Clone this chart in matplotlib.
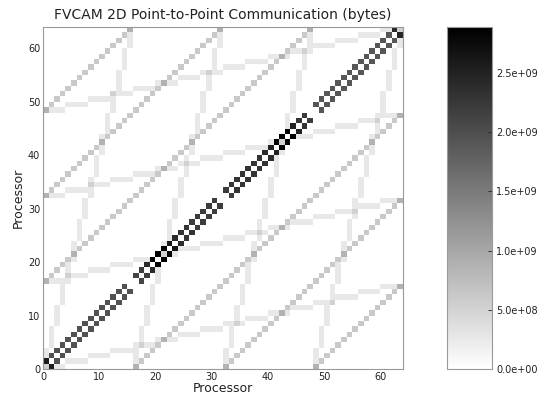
import numpy as np
import matplotlib
matplotlib.use('Agg')
import matplotlib.pyplot as plt
from matplotlib.ticker import FormatStrFormatter

# 64 processors, groups of 16 along the diagonal
n_proc = 64
group = 16

# neighbour (i, i+1) traffic inside each group of 16, in 1e9 bytes
diag_group0 = [2.3, 1.95, 1.95, 1.95, 1.95, 1.95, 1.95, 1.95, 1.95, 1.95, 1.95, 1.95, 1.95, 1.95, 1.95]
diag_group1 = [2.1, 2.2, 2.4, 2.7, 2.89, 2.8, 2.6, 2.4, 2.3, 2.3, 2.2, 2.2, 2.2, 2.2, 2.2]
diag_group2 = [2.2, 2.3, 2.3, 2.3, 2.3, 2.3, 2.3, 2.4, 2.5, 2.7, 2.89, 2.7, 2.5, 2.3, 2.2]
diag_group3 = [1.9, 1.9, 1.9, 1.9, 1.9, 1.9, 1.9, 1.9, 1.9, 1.9, 1.9, 1.9, 1.9, 1.9, 2.2]

# traffic between processors 16, 32, 48 apart
offset_lags = [16, 32, 48]
offset_value = 0.62

# transpose staircase: (16k + row//4, row) and its mirror
stair_starts = [0, 16, 32, 48]
stair_step = 4
stair_value = 0.26

color_max = 2.89e9

mat = np.zeros((n_proc, n_proc))
for g, vals in enumerate([diag_group0, diag_group1, diag_group2, diag_group3]):
    for k, v in enumerate(vals):
        i = g * group + k
        mat[i, i + 1] += v
        mat[i + 1, i] += v
for lag in offset_lags:
    for i in range(n_proc - lag):
        mat[i, i + lag] += offset_value
        mat[i + lag, i] += offset_value
for s in stair_starts:
    for r in range(n_proc):
        c = s + r // stair_step
        mat[r, c] += stair_value
        mat[c, r] += stair_value
mat = mat * 1e9

fig = plt.figure(figsize=(5.43, 3.97), dpi=100)
ax = fig.add_axes([43 / 543, 28 / 397, 360 / 543, 342 / 397])
im = ax.imshow(mat, cmap='gray_r', origin='lower', extent=[0, 64, 0, 64],
               aspect='auto', interpolation='nearest', vmin=0, vmax=color_max)
ax.set_xlim(0, 64)
ax.set_ylim(0, 64)
ax.set_xticks([0, 10, 20, 30, 40, 50, 60])
ax.set_yticks([0, 10, 20, 30, 40, 50, 60])
ax.tick_params(labelsize=7, length=0, pad=2, colors='#222222')
for sp in ax.spines.values():
    sp.set_color('#999999')
ax.set_xlabel('Processor', fontsize=9, labelpad=0, color='#222222')
ax.set_ylabel('Processor', fontsize=9, labelpad=2, color='#222222')
ax.set_title('FVCAM 2D Point-to-Point Communication (bytes)', fontsize=10, pad=6, color='#222222')

cax = fig.add_axes([447 / 543, 28 / 397, 45 / 543, 342 / 397])
cb = fig.colorbar(im, cax=cax, ticks=[0, 5e8, 1e9, 1.5e9, 2e9, 2.5e9])
cb.ax.yaxis.set_major_formatter(FormatStrFormatter('%.1e'))
cb.ax.tick_params(labelsize=7, direction='in', length=3, width=0.6, pad=3, colors='#222222')
cb.outline.set_edgecolor('#999999')

fig.savefig('out.png', dpi=100)
